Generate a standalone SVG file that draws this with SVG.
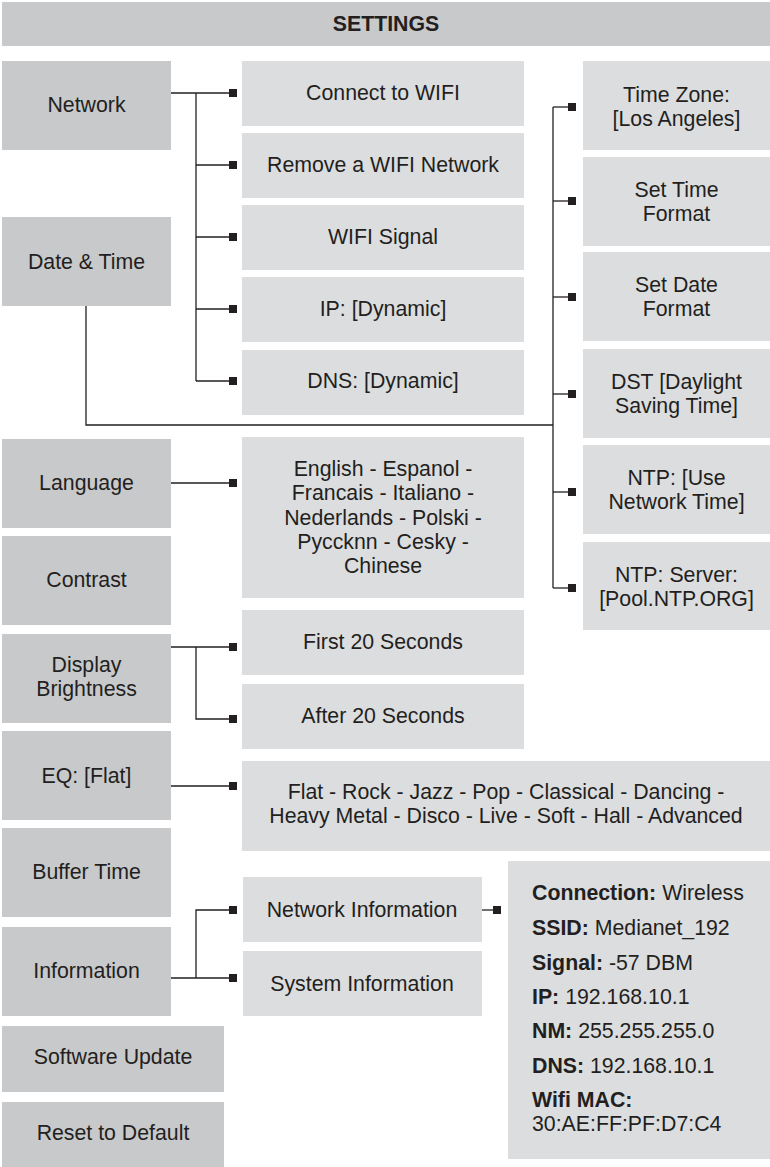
<svg xmlns="http://www.w3.org/2000/svg" width="770" height="1167" viewBox="0 0 770 1167">
<defs>
<style>
.main{fill:#c8c9cb}
.sub{fill:#dcdddf}
text{font-family:"Liberation Sans",Arial,sans-serif;font-size:21.3px;fill:#231f20}
.c{text-anchor:middle}
.b{font-weight:bold}
.ln{fill:none;stroke:#231f20;stroke-width:1.3}
.sq{fill:#231f20}
</style>
<marker id="sq" markerUnits="userSpaceOnUse" markerWidth="8" markerHeight="8" refX="8" refY="4" orient="0" viewBox="0 0 8 8"><rect x="0" y="0" width="8" height="8" class="sq"/></marker>
</defs>
<rect width="770" height="1167" fill="#ffffff"/>

<g id="title"><rect x="2" y="2" width="768" height="44" class="main"/><text x="386" y="31" class="c b">SETTINGS</text></g>

<g id="network"><rect x="2" y="61" width="169" height="89" class="main"/><text x="86.5" y="112" class="c">Network</text></g>
<g id="datetime"><rect x="2" y="217" width="169" height="89" class="main"/><text x="86.5" y="269" class="c">Date &amp; Time</text></g>
<g id="language"><rect x="2" y="439" width="169" height="89" class="main"/><text x="86.5" y="490" class="c">Language</text></g>
<g id="contrast"><rect x="2" y="536" width="169" height="89" class="main"/><text x="86.5" y="587" class="c">Contrast</text></g>
<g id="brightness"><rect x="2" y="634" width="169" height="89" class="main"/><text x="86.5" y="672" class="c">Display</text><text x="86.5" y="696" class="c">Brightness</text></g>
<g id="eq"><rect x="2" y="731" width="169" height="89" class="main"/><text x="86.5" y="783" class="c">EQ: [Flat]</text></g>
<g id="buffer"><rect x="2" y="828" width="169" height="89" class="main"/><text x="86.5" y="879" class="c">Buffer Time</text></g>
<g id="information"><rect x="2" y="927" width="169" height="89" class="main"/><text x="86.5" y="978" class="c">Information</text></g>
<g id="software"><rect x="2" y="1026" width="222" height="66" class="main"/><text x="113" y="1064" class="c">Software Update</text></g>
<g id="reset"><rect x="2" y="1102" width="222" height="65" class="main"/><text x="113" y="1140" class="c">Reset to Default</text></g>

<g id="connect-wifi"><rect x="242" y="61" width="282" height="65" class="sub"/><text x="383" y="100" class="c">Connect to WIFI</text></g>
<g id="remove-wifi"><rect x="242" y="133" width="282" height="65" class="sub"/><text x="383" y="172" class="c">Remove a WIFI Network</text></g>
<g id="wifi-signal"><rect x="242" y="205" width="282" height="65" class="sub"/><text x="383" y="244" class="c">WIFI Signal</text></g>
<g id="ip"><rect x="242" y="277" width="282" height="65" class="sub"/><text x="383" y="316" class="c">IP: [Dynamic]</text></g>
<g id="dns"><rect x="242" y="350" width="282" height="65" class="sub"/><text x="383" y="388" class="c">DNS: [Dynamic]</text></g>
<g id="languages"><rect x="242" y="437" width="282" height="161" class="sub"/>
<text x="383" y="476" class="c">English - Espanol -</text>
<text x="383" y="500" class="c">Francais - Italiano -</text>
<text x="383" y="525" class="c">Nederlands - Polski -</text>
<text x="383" y="549" class="c">Pyccknn - Cesky -</text>
<text x="383" y="573" class="c">Chinese</text></g>
<g id="first20"><rect x="242" y="610" width="282" height="65" class="sub"/><text x="383" y="649" class="c">First 20 Seconds</text></g>
<g id="after20"><rect x="242" y="684" width="282" height="65" class="sub"/><text x="383" y="723" class="c">After 20 Seconds</text></g>
<g id="eq-options"><rect x="242" y="761" width="528" height="90" class="sub"/>
<text x="506" y="799" class="c">Flat - Rock - Jazz - Pop - Classical - Dancing -</text>
<text x="506" y="823" class="c">Heavy Metal - Disco - Live - Soft - Hall - Advanced</text></g>
<g id="network-info"><rect x="243" y="877" width="239" height="65" class="sub"/><text x="362" y="917" class="c">Network Information</text></g>
<g id="system-info"><rect x="243" y="951" width="239" height="65" class="sub"/><text x="362" y="991" class="c">System Information</text></g>

<g id="timezone"><rect x="583" y="61" width="187" height="89" class="sub"/><text x="676.5" y="102" class="c">Time Zone:</text><text x="676.5" y="126" class="c">[Los Angeles]</text></g>
<g id="timeformat"><rect x="583" y="157" width="187" height="89" class="sub"/><text x="676.5" y="197" class="c">Set Time</text><text x="676.5" y="221" class="c">Format</text></g>
<g id="dateformat"><rect x="583" y="252" width="187" height="89" class="sub"/><text x="676.5" y="292" class="c">Set Date</text><text x="676.5" y="316" class="c">Format</text></g>
<g id="dst"><rect x="583" y="349" width="187" height="89" class="sub"/><text x="676.5" y="389" class="c">DST [Daylight</text><text x="676.5" y="413" class="c">Saving Time]</text></g>
<g id="ntp-use"><rect x="583" y="445" width="187" height="89" class="sub"/><text x="676.5" y="485" class="c">NTP: [Use</text><text x="676.5" y="509" class="c">Network Time]</text></g>
<g id="ntp-server"><rect x="583" y="542" width="187" height="88" class="sub"/><text x="676.5" y="582" class="c">NTP: Server:</text><text x="676.5" y="606" class="c">[Pool.NTP.ORG]</text></g>

<g id="network-details"><rect x="508" y="861" width="262" height="298" class="sub"/>
<text x="532" y="900"><tspan class="b">Connection:</tspan> Wireless</text>
<text x="532" y="935"><tspan class="b">SSID:</tspan> Medianet_192</text>
<text x="532" y="970"><tspan class="b">Signal:</tspan> -57 DBM</text>
<text x="532" y="1004"><tspan class="b">IP:</tspan> 192.168.10.1</text>
<text x="532" y="1038"><tspan class="b">NM:</tspan> 255.255.255.0</text>
<text x="532" y="1073"><tspan class="b">DNS:</tspan> 192.168.10.1</text>
<text x="532" y="1107" class="b">Wifi MAC:</text>
<text x="532" y="1131">30:AE:FF:PF:D7:C4</text></g>

<g id="connectors" class="ln">
<path d="M171,93 H237" marker-end="url(#sq)"/>
<path d="M196,93 V381"/>
<path d="M196,165 H237" marker-end="url(#sq)"/>
<path d="M196,237 H237" marker-end="url(#sq)"/>
<path d="M196,309 H237" marker-end="url(#sq)"/>
<path d="M196,381 H237" marker-end="url(#sq)"/>
<path d="M86,306 V425 H553"/>
<path d="M553,107 V588"/>
<path d="M553,107 H576" marker-end="url(#sq)"/>
<path d="M553,201 H576" marker-end="url(#sq)"/>
<path d="M553,297 H576" marker-end="url(#sq)"/>
<path d="M553,394 H576" marker-end="url(#sq)"/>
<path d="M553,492 H576" marker-end="url(#sq)"/>
<path d="M553,588 H576" marker-end="url(#sq)"/>
<path d="M171,483 H237" marker-end="url(#sq)"/>
<path d="M171,647 H237" marker-end="url(#sq)"/>
<path d="M196,647 V719 H237" marker-end="url(#sq)"/>
<path d="M171,786 H237" marker-end="url(#sq)"/>
<path d="M171,978 H237" marker-end="url(#sq)"/>
<path d="M196,978 V910 H237" marker-end="url(#sq)"/>
<path d="M482,910 H501" marker-end="url(#sq)"/>
</g>
</svg>
